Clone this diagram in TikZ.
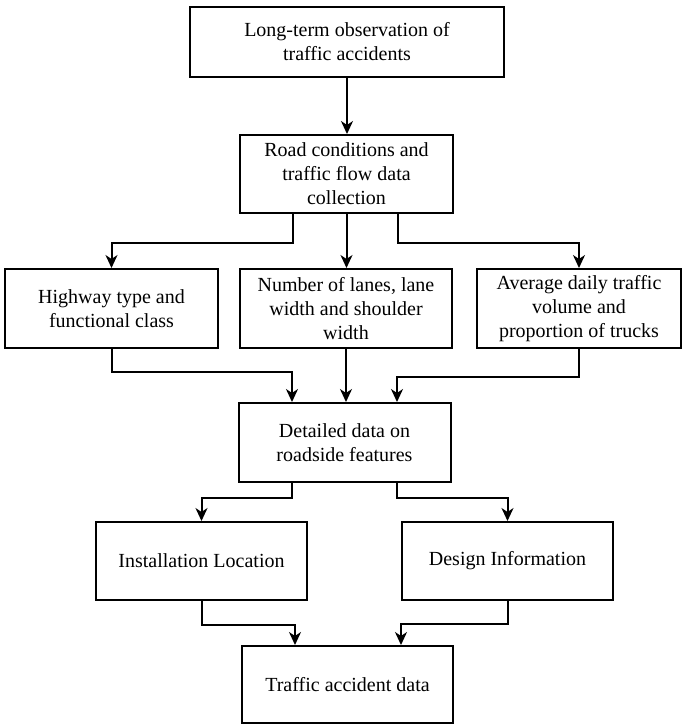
\documentclass[tikz,border=0pt]{standalone}
\usepackage{fontspec}
\setmainfont{Liberation Serif}
\usetikzlibrary{arrows.meta}
\begin{document}
\begin{tikzpicture}[x=1pt,y=-1pt,
  box/.style={draw=black,line width=2pt,fill=white,inner sep=0pt,align=center,
    font=\fontsize{20}{24}\selectfont},
  arr/.style={draw=black,line width=2pt,-{Stealth[length=13pt,width=12pt,inset=4pt]}}]
\useasboundingbox (0,0) rectangle (682,724);
\node[box,minimum width=314pt,minimum height=70pt] (b1) at (347,42) {Long-term observation of\\traffic accidents};
\node[box,minimum width=213pt,minimum height=78pt] (b2) at (346.5,174) {Road conditions and\\traffic flow data\\collection};
\node[box,minimum width=213pt,minimum height=79pt] (b3) at (111.5,308.5) {Highway type and\\functional class};
\node[box,minimum width=212pt,minimum height=79pt] (b4) at (346,308.5) {Number of lanes, lane\\width and shoulder\\width};
\node[box,minimum width=204pt,minimum height=79pt] (b5) at (579,308.5) {Average daily traffic\\volume and\\proportion of trucks};
\node[box,minimum width=212pt,minimum height=79pt] (b6) at (344.5,442.5) {Detailed data on\\roadside features};
\node[box,minimum width=211pt,minimum height=78pt] (b7) at (201.5,561) {Installation Location};
\node[box,minimum width=211pt,minimum height=78pt] (b8) at (507.5,561) {Design Information};
\node[box,minimum width=211pt,minimum height=77pt] (b9) at (347.5,684.5) {Traffic accident data};
\draw[arr] (b1.south) -- (b1.south |- b2.north);
\draw[arr] ([xshift=-53.5pt]b2.south) -- ++(0,29) -| (b3.north);
\draw[arr] (b2.south) -- (b2.south |- b4.north);
\draw[arr] ([xshift=51.5pt]b2.south) -- ++(0,29) -| (b5.north);
\draw[arr] (b3.south) -- ++(0,23) -| ([xshift=-52.5pt]b6.north);
\draw[arr] (b4.south) -- (b4.south |- b6.north);
\draw[arr] (b5.south) -- ++(0,28) -| ([xshift=52.5pt]b6.north);
\draw[arr] ([xshift=-52.5pt]b6.south) -- ++(0,15) -| (b7.north);
\draw[arr] ([xshift=52.5pt]b6.south) -- ++(0,15) -| (b8.north);
\draw[arr] (b7.south) -- ++(0,24) -| ([xshift=-52.5pt]b9.north);
\draw[arr] (b8.south) -- ++(0,23) -| ([xshift=53.5pt]b9.north);
\end{tikzpicture}
\end{document}
